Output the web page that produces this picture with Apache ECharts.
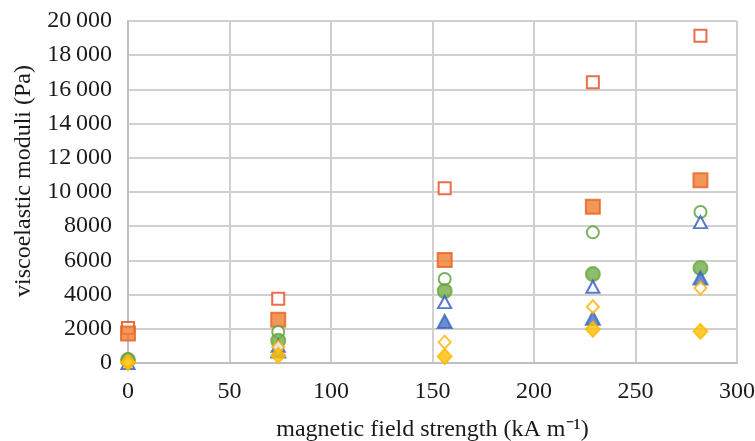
<!DOCTYPE html>
<html>
<head>
<meta charset="utf-8">
<script src="https://cdn.jsdelivr.net/npm/echarts@6/dist/echarts.min.js"></script>
<style>
  html, body { margin: 0; padding: 0; background: #fff; }
  #chart { width: 755px; height: 441px; }
</style>
</head>
<body>
<div id="chart"></div>
<script>
// Field strengths (kA m^-1) at which the moduli were measured
const fieldStrength = [0, 74, 156, 229, 282];

// Storage / loss moduli (Pa) for each sample
const gOpenSquare   = [2050, 3760, 10220, 16420, 19140];
const gFilledSquare = [1720, 2530, 6020, 9140, 10680];
const gOpenCircle   = [230, 1820, 4910, 7640, 8830];
const gFilledCircle = [160, 1300, 4210, 5200, 5550];
const gOpenTri      = [0, 1000, 3560, 4460, 8240];
const gFilledTri    = [-80, 700, 2430, 2620, 4970];
const gOpenDiamond  = [60, 930, 1220, 3290, 4380];
const gFilledDiamond= [20, 440, 380, 1970, 1850];

const yTitle = 'viscoelastic moduli (Pa)';
const xTitle = 'magnetic field strength (kA m\u207B\u00B9)';

function pairs(vals) { return fieldStrength.map((x, i) => [x, vals[i]]); }

// thousands separated by a thin space from 10 000 upward
function fmtY(v) {
  if (v >= 10000) {
    const s = String(v);
    return s.slice(0, s.length - 3) + '\u2009' + s.slice(s.length - 3);
  }
  return String(v);
}

const serif = 'Liberation Serif';
const ink = '#1a1a1a';

function mk(name, vals, symbol, size, fill, stroke) {
  return {
    name, type: 'scatter', data: pairs(vals), symbol, symbolSize: size,
    itemStyle: { color: fill, borderColor: stroke, borderWidth: 2 },
    emphasis: { disabled: true }
  };
}

const chart = echarts.init(document.getElementById('chart'), null, { renderer: 'canvas' });
chart.setOption({
  animation: false,
  backgroundColor: '#fff',
  grid: { left: 128, right: 18, top: 21, bottom: 78, containLabel: false, outerBoundsMode: 'none' },
  graphic: [{
    type: 'text', x: 24, y: 181, rotation: Math.PI / 2,
    style: {
      text: yTitle, font: '24px "Liberation Serif"', fill: ink,
      textAlign: 'center', textVerticalAlign: 'middle'
    }
  }],
  xAxis: {
    type: 'value', min: 0, max: 300, interval: 50,
    name: xTitle,
    nameLocation: 'middle', nameGap: 55,
    nameTextStyle: { fontFamily: serif, fontSize: 24, color: ink },
    axisLine: { show: true, lineStyle: { color: '#bfbfbf', width: 2 } },
    axisTick: { show: false },
    axisLabel: { fontFamily: serif, fontSize: 24, color: ink, margin: 17 },
    splitLine: { show: true, lineStyle: { color: '#d0d0d0', width: 2 } }
  },
  yAxis: {
    type: 'value', min: 0, max: 20000, interval: 2000,
    axisLine: { show: true, lineStyle: { color: '#bfbfbf', width: 2 } },
    axisTick: { show: false },
    axisLabel: { fontFamily: serif, fontSize: 24, color: ink, margin: 16, formatter: fmtY },
    splitLine: { show: true, lineStyle: { color: '#d0d0d0', width: 2 } }
  },
  series: [
    mk('G\u2032 square', gOpenSquare, 'rect', 12, '#ffffff', '#E8491D'),
    mk('G\u2033 square', gFilledSquare, 'rect', 14, '#ED7D31', '#E8601F'),
    mk('G\u2032 circle', gOpenCircle, 'circle', 12, '#ffffff', '#5A9E35'),
    mk('G\u2033 circle', gFilledCircle, 'circle', 14, '#70AD47', '#6AA63F'),
    mk('G\u2032 triangle', gOpenTri, 'triangle', [13, 12], '#ffffff', '#2F55C0'),
    mk('G\u2033 triangle', gFilledTri, 'triangle', [14, 13], '#4472C4', '#3A66C0'),
    mk('G\u2032 diamond', gOpenDiamond, 'diamond', [12, 13], '#ffffff', '#FFB000'),
    mk('G\u2033 diamond', gFilledDiamond, 'diamond', [14, 15], '#FFC000', '#FFB800')
  ]
});
</script>
</body>
</html>
